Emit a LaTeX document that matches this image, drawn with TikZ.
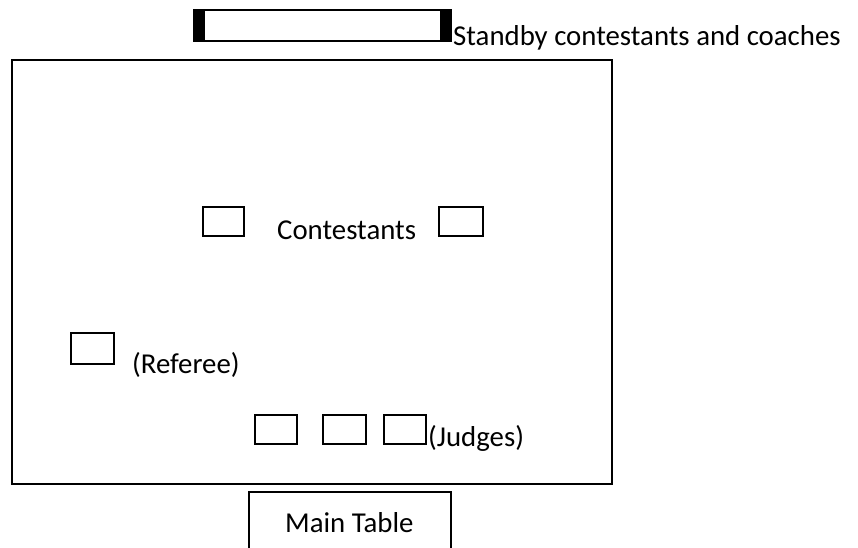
\documentclass[tikz,border=0pt]{standalone}
\usepackage{fontspec}
\setmainfont{Carlito}
\begin{document}
\begin{tikzpicture}[x=1pt,y=-1pt,
  frame/.style={draw=black,line width=2pt},
  seat/.style={draw=black,line width=1.5pt,fill=white},
  lbl/.style={inner sep=0pt,anchor=base west,font=\fontsize{28.8}{34}\selectfont}]
\useasboundingbox (0,0) rectangle (858,547);
\clip (0,0) rectangle (858,547);
% standby bench
\fill[black] (193,9) rectangle (205,42);
\fill[black] (440,9) rectangle (452,42);
\draw[frame] (194,10) rectangle (451,41);
\node[lbl] (standby) at (453,45) {Standby contestants and coaches};
% main area
\draw[frame] (12,60) rectangle (612,484);
% contestants
\draw[seat] (203,207) rectangle (244,236);
\node[lbl] (cont) at (277,239) {Contestants};
\draw[seat] (439,207) rectangle (483,236);
% referee
\draw[seat] (71,333) rectangle (114,364);
\node[lbl] (ref) at (132,373) {(Referee)};
% judges
\draw[seat] (255,415) rectangle (297,444);
\draw[seat] (323,415) rectangle (366,444);
\draw[seat] (384,415) rectangle (426,444);
\node[lbl] (judges) at (428,446) {(Judges)};
% main table
\draw[frame] (249,560) -- (249,492) -- (451,492) -- (451,560);
\node[lbl] (main) at (285,532) {Main Table};
\end{tikzpicture}
\end{document}
